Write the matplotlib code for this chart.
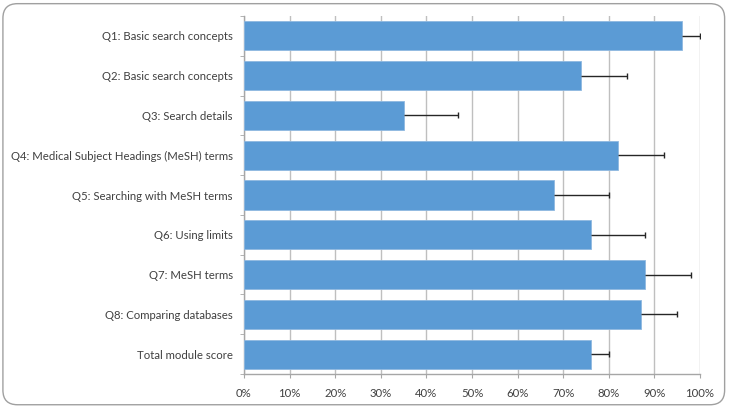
import matplotlib
matplotlib.use("Agg")
import matplotlib.pyplot as plt
from matplotlib.patches import FancyBboxPatch
from matplotlib.ticker import FixedLocator, PercentFormatter

categories = [
    "Q1: Basic search concepts",
    "Q2: Basic search concepts",
    "Q3: Search details",
    "Q4: Medical Subject Headings (MeSH) terms",
    "Q5: Searching with MeSH terms",
    "Q6: Using limits",
    "Q7: MeSH terms",
    "Q8: Comparing databases",
    "Total module score",
]
values = [96, 74, 35, 82, 68, 76, 88, 87, 76]
errors = [4, 10, 12, 10, 12, 12, 10, 8, 4]
xticks = [0, 10, 20, 30, 40, 50, 60, 70, 80, 90, 100]

plt.rcParams['font.family'] = ['Lato', 'DejaVu Sans']

fig = plt.figure(figsize=(7.29, 4.08), dpi=100)
ax = fig.add_axes([0.3347, 0.0833, 0.6255, 0.8775])

n = len(categories)
ypos = list(range(n))
ax.barh(ypos, values, height=0.73, color='#5B9BD5', edgecolor='#8FB8E0', linewidth=0.6, zorder=3)
eb = ax.errorbar(values, ypos, xerr=[[0]*n, errors], fmt='none', ecolor='#262626',
                 elinewidth=1.0, capsize=2.2, capthick=1.0, zorder=4)
eb.lines[1][0].set_visible(False)

ax.set_ylim(n - 0.5, -0.5)
ax.set_xlim(0, 100)
ax.set_yticks(ypos)
ax.set_yticklabels(categories, fontsize=8.2, color='#404040')
ax.yaxis.set_minor_locator(FixedLocator([i - 0.5 for i in range(n + 1)]))
ax.tick_params(axis='y', which='major', length=0, pad=8)
ax.tick_params(axis='y', which='minor', length=3, color='#A6A6A6', direction='out')

ax.set_xticks(xticks)
ax.xaxis.set_major_formatter(PercentFormatter(decimals=0))
ax.tick_params(axis='x', which='major', length=3, color='#A6A6A6', labelsize=8.2,
               labelcolor='#404040', pad=7, direction='out')
ax.grid(axis='x', color='#BFBFBF', linewidth=1.0, zorder=0)
ax.set_axisbelow(True)

for side in ['top', 'right']:
    ax.spines[side].set_visible(False)
for side in ['left', 'bottom']:
    ax.spines[side].set_color('#A6A6A6')
    ax.spines[side].set_linewidth(1.0)

border = FancyBboxPatch((0.004, 0.008), 0.99, 0.983, boxstyle="round,pad=0,rounding_size=0.02",
                        transform=fig.transFigure, facecolor='none', edgecolor='#A0A0A0',
                        linewidth=1.0, mutation_aspect=729/408)
fig.patches.append(border)

fig.savefig('out.png', dpi=100)
